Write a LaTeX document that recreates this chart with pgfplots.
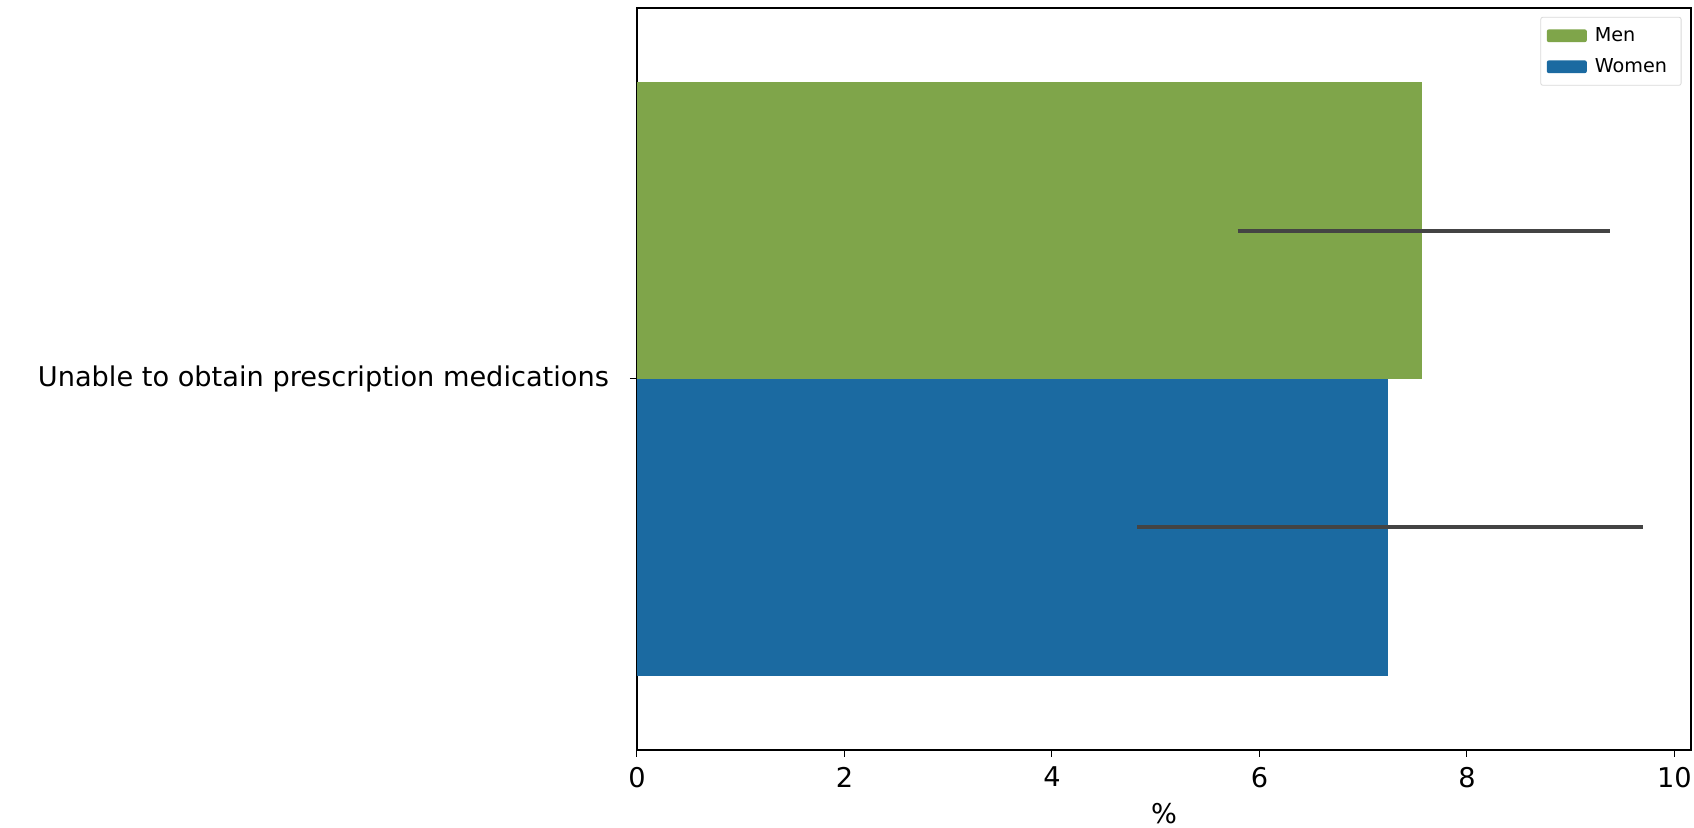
\documentclass[border=0pt]{standalone}
\usepackage{pgfplots}
\pgfplotsset{compat=1.18}
\usepackage{fontspec}
\setmainfont{DejaVu Sans}
\definecolor{mengreen}{HTML}{7FA54A}
\definecolor{womenblue}{HTML}{1B6AA1}
\definecolor{errgray}{HTML}{444444}
\begin{document}
\begin{tikzpicture}
\path[use as bounding box] (-318.5pt,-39pt) rectangle (528.5pt,375pt);
\begin{axis}[
  at={(0pt,0pt)}, anchor=south west,
  scale only axis,
  width=527pt, height=371pt,
  xmin=0, xmax=10.16,
  ymin=-0.5, ymax=0.5,
  xtick={0,2,4,6,8,10},
  ytick={0},
  yticklabels={Unable to obtain prescription medications},
  tick label style={font=\fontsize{13.6}{16}\selectfont},
  xticklabel style={yshift=-1.5pt},
  yticklabel style={xshift=-7pt},
  /pgf/number format/assume math mode=true,
  xlabel={\%},
  xlabel style={font=\fontsize{13.6}{16}\selectfont, yshift=-1pt},
  tick align=outside,
  tick pos=left,
  major tick length=3.5pt,
  axis line style={line width=0.6pt},
  every tick/.style={black, line width=0.5pt},
  legend style={at={(0.991,0.988)}, anchor=north east,
    font=\fontsize{9.6}{11}\selectfont, draw=black!15, rounded corners=1pt,
    row sep=3pt, inner sep=3pt,
    nodes={inner xsep=4pt}},
  legend cell align=left,
  legend image code/.code={\fill[#1] (0pt,-3.2pt) rectangle (20pt,3.2pt);},
]
\addplot[xbar, bar width=0.4, bar shift=0pt, fill=mengreen, draw=none] coordinates {(7.57,0.2)};
\addlegendentry{Men}
\addplot[xbar, bar width=0.4, bar shift=0pt, fill=womenblue, draw=none] coordinates {(7.24,-0.2)};
\addlegendentry{Women}
\addplot[draw=errgray, line width=2pt, forget plot] coordinates {(5.79,0.2) (9.375,0.2)};
\addplot[draw=errgray, line width=2pt, forget plot] coordinates {(4.82,-0.2) (9.70,-0.2)};
\end{axis}
\end{tikzpicture}
\end{document}
